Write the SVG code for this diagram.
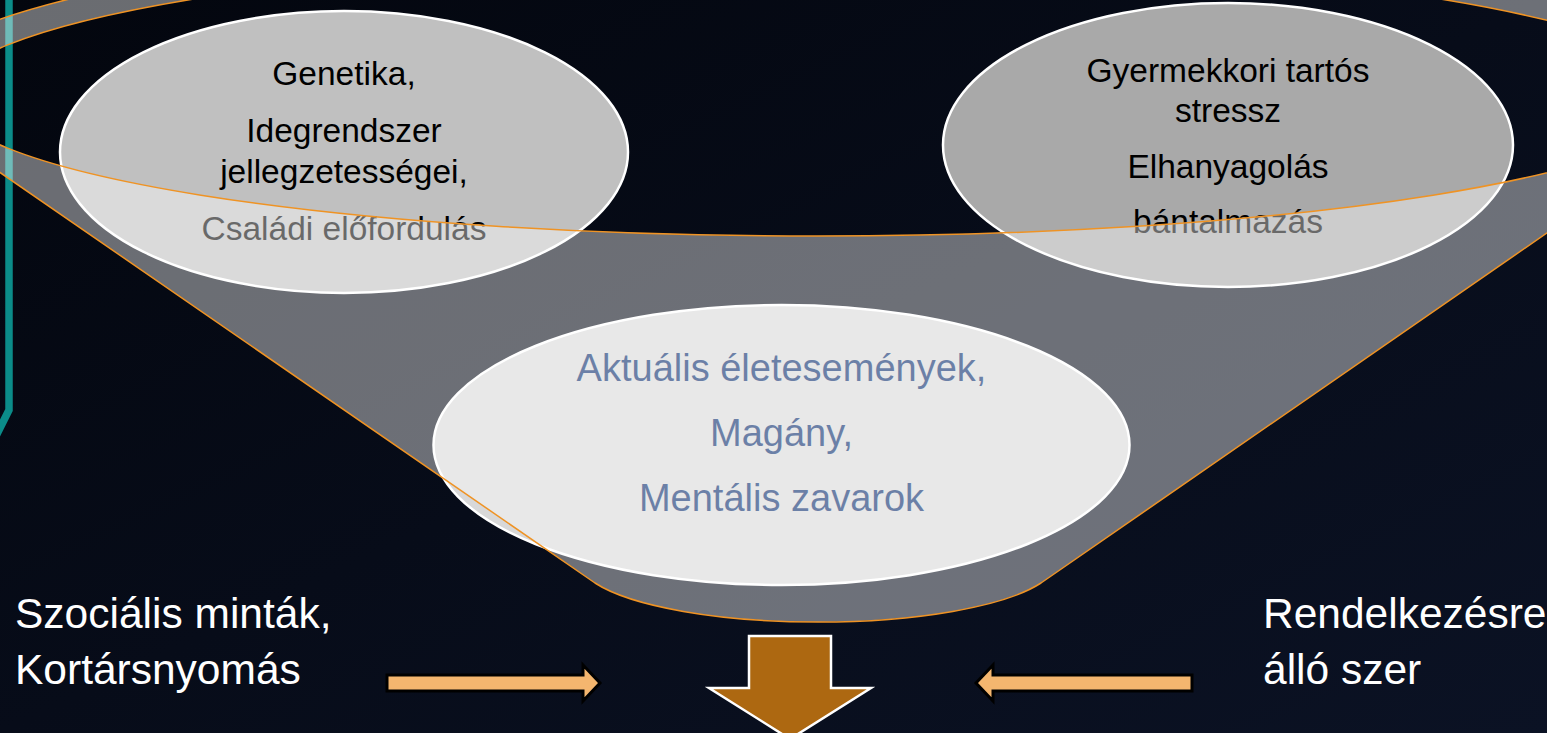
<svg xmlns="http://www.w3.org/2000/svg" width="1547" height="733" viewBox="0 0 1547 733">
  <defs>
    <linearGradient id="bg" x1="0" y1="0" x2="1" y2="1">
      <stop offset="0" stop-color="#03060e"/>
      <stop offset="1" stop-color="#0b1224"/>
    </linearGradient>
    <style>
      .t { font-family: "Liberation Sans", Arial, sans-serif; text-anchor: middle; }
      .side { font-family: "Liberation Sans", Arial, sans-serif; font-size: 42.5px; fill: #ffffff; }
      .node { stroke: #ffffff; stroke-width: 2.5; }
      .blk { font-size: 33.5px; fill: #000000; }
      .mid { font-size: 38px; fill: #04286a; }
      .side-arrow { fill: #f4b66f; stroke: #000000; stroke-width: 3; stroke-linejoin: miter; }
    </style>
  </defs>

  <rect x="0" y="0" width="1547" height="733" fill="url(#bg)"/>

  <!-- teal accent line -->
  <polyline points="9,0 9,410 -6,440" fill="none" stroke="#0b8c89" stroke-width="7.5"/>

  <g id="node-genetika">
    <ellipse class="node" cx="344" cy="152" rx="284" ry="141" fill="#c0c0c0"/>
    <text class="t blk" x="344" y="85">Genetika,</text>
    <text class="t blk" x="344" y="142">Idegrendszer</text>
    <text class="t blk" x="344" y="183">jellegzetességei,</text>
    <text class="t blk" x="344" y="240">Családi előfordulás</text>
  </g>

  <g id="node-gyermekkori">
    <ellipse class="node" cx="1228" cy="145" rx="285" ry="142" fill="#a9a9a9"/>
    <text class="t blk" x="1228" y="82">Gyermekkori tartós</text>
    <text class="t blk" x="1228" y="122">stressz</text>
    <text class="t blk" x="1228" y="178">Elhanyagolás</text>
    <text class="t blk" x="1228" y="233">bántalmazás</text>
  </g>

  <g id="node-aktualis">
    <ellipse class="node" cx="781.5" cy="445" rx="348" ry="140" fill="#d8d8d8"/>
    <text class="t mid" x="781.5" y="381">Aktuális életesemények,</text>
    <text class="t mid" x="781.5" y="446">Magány,</text>
    <text class="t mid" x="781.5" y="511">Mentális zavarok</text>
  </g>

  <!-- funnel body (semi-transparent, with opening) -->
  <g id="funnel">
    <path fill="#ffffff" fill-opacity="0.41" fill-rule="evenodd" stroke="#ef9324" stroke-width="1.5"
      d="M -108 98 A 925 168 0 0 1 1742 98 L 1041 583 A 240 62 0 0 1 595 583 Z
         M -54 96.5 A 871 139.5 0 1 1 1688 96.5 A 871 139.5 0 1 1 -54 96.5 Z"/>
  </g>

  <g id="connectors">
    <path class="side-arrow" d="M 387 675 L 583 675 L 583 665 L 600 683 L 583 701 L 583 691 L 387 691 Z"/>
    <path class="side-arrow" d="M 1192 675 L 993 675 L 993 665 L 976 683 L 993 701 L 993 691 L 1192 691 Z"/>
    <path d="M 749 636 L 831 636 L 831 688 L 871 688 L 790 739 L 709 688 L 749 688 Z" fill="#ad6811" stroke="#ffffff" stroke-width="2.5"/>
  </g>

  <g id="label-szocialis">
    <text class="side" x="15" y="628">Szociális minták,</text>
    <text class="side" x="15" y="684">Kortársnyomás</text>
  </g>

  <g id="label-rendelkezesre">
    <text class="side" x="1263" y="628">Rendelkezésre</text>
    <text class="side" x="1263" y="684">álló szer</text>
  </g>
</svg>
